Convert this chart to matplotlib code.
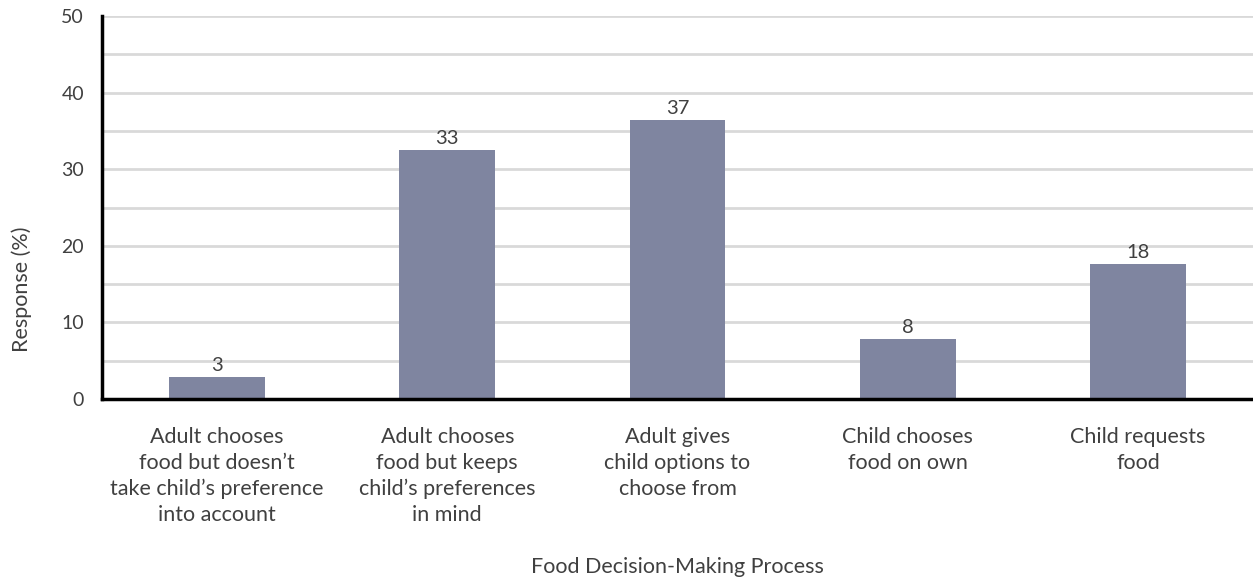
import numpy as np
import matplotlib.pyplot as plt

# Datos
categorias = [
    "Adult chooses\nfood but doesn\u2019t\ntake child\u2019s preference\ninto account",
    "Adult chooses\nfood but keeps\nchild\u2019s preferences\nin mind",
    "Adult gives\nchild options to\nchoose from",
    "Child chooses\nfood on own",
    "Child requests\nfood",
]
valores = [2.9, 32.5, 36.5, 7.8, 17.6]
etiquetas = ["3", "33", "37", "8", "18"]

plt.rcParams['font.family'] = ['Lato', 'DejaVu Sans']

fig = plt.figure(figsize=(12.53, 5.79), dpi=100)
ax = fig.add_axes([0.0814, 0.311, 0.9186, 0.661])

x = np.arange(len(categorias))
barras = ax.bar(x, valores, width=0.417, color='#7F85A0', zorder=3)

# etiquetas de valor sobre cada barra
for xi, v, t in zip(x, valores, etiquetas):
    ax.annotate(t, (xi, v), xytext=(0, 2), textcoords='offset points',
                ha='center', va='bottom', fontsize=14.5, color='#404040', zorder=4)

ax.set_xlim(-0.5, 4.5)
ax.set_ylim(0, 50)
ax.set_yticks(np.arange(0, 51, 10))
ax.set_yticks(np.arange(0, 51, 5), minor=True)
ax.yaxis.grid(True, which='both', color='#D9D9D9', linewidth=2, zorder=0)
ax.set_xticks(x)
ax.set_xticklabels(categorias, fontsize=15.5, color='#404040', linespacing=1.37)
ax.tick_params(axis='x', length=0, pad=20)
ax.tick_params(axis='y', which='both', length=0, labelsize=14, labelcolor='#404040', pad=13)

for s in ['top', 'right']:
    ax.spines[s].set_visible(False)
ax.spines['left'].set_linewidth(2.5)
ax.spines['bottom'].set_linewidth(2.5)
ax.spines['left'].set_zorder(5)
ax.spines['bottom'].set_zorder(5)

ax.yaxis.set_label_coords(22 / 1253, 0.5, transform=fig.transFigure)
ax.set_ylabel('Response (%)', fontsize=15.5, color='#404040', va='center')
fig.text(0.5 * (0.0814 + 1.0), 1 - 567 / 579, 'Food Decision-Making Process',
         ha='center', va='center', fontsize=15.5, color='#404040')

plt.savefig('out.png', dpi=100)
